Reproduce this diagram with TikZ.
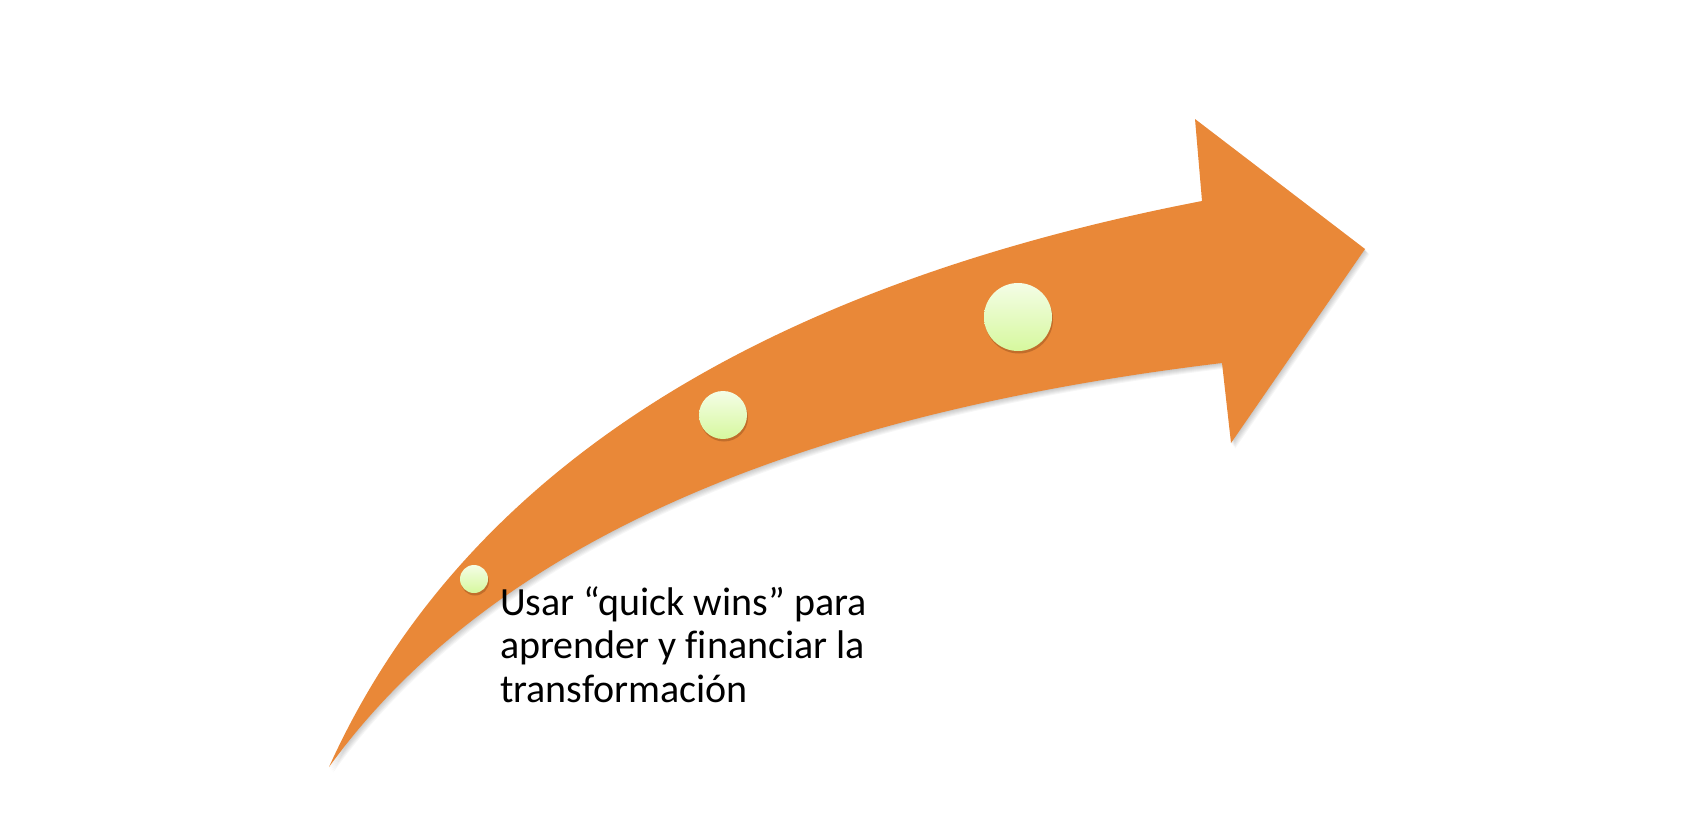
\documentclass[tikz,border=0pt]{standalone}
\usepackage{fontspec}
\setmainfont{Carlito}[Ligatures=NoCommon]
\usetikzlibrary{shadows}
\definecolor{arroworange}{RGB}{233,136,56}
\definecolor{dottop}{RGB}{244,253,230}
\definecolor{dotbottom}{RGB}{214,248,158}
\definecolor{dotshadow}{RGB}{120,60,20}
\begin{document}
\begin{tikzpicture}[x=1pt,y=-1pt,
  arrowshape/.style={insert path={(329,767) .. controls (460,477) and (751,288) .. (1202,201) -- (1195,119) -- (1365,249) -- (1231,443) -- (1222,363) .. controls (782,416) and (485,551) .. cycle}},
  dot/.style={circle, inner sep=0pt, draw=none, top color=dottop, bottom color=dotbottom,
    drop shadow={shadow xshift=1pt, shadow yshift=-2.5pt, opacity=0.35, fill=dotshadow}},
  textblock/.style={font=\fontsize{40}{43.5}\selectfont, align=left, inner sep=0pt, anchor=base west}]
\fill[white] (0,0) rectangle (1693,814);
\path[use as bounding box] (0,0) rectangle (1693,814);
% soft shadow of the arrow
\foreach \i in {1,...,6} {
  \fill[black, opacity=0.035, shift={(\i*0.7,\i*0.9)}, arrowshape];
}
% arrow
\fill[arroworange, arrowshape];
% dots
\node[dot, minimum size=28pt] (d1) at (474,579) {};
\node[dot, minimum size=48pt] (d2) at (723,415) {};
\node[dot, minimum size=68pt] (d3) at (1018,317) {};
% text (anchor = baseline of the last line)
\node[textblock] (txt) at (500,702) {Usar “quick wins” para\\aprender y financiar la\\transformación};
\end{tikzpicture}
\end{document}
